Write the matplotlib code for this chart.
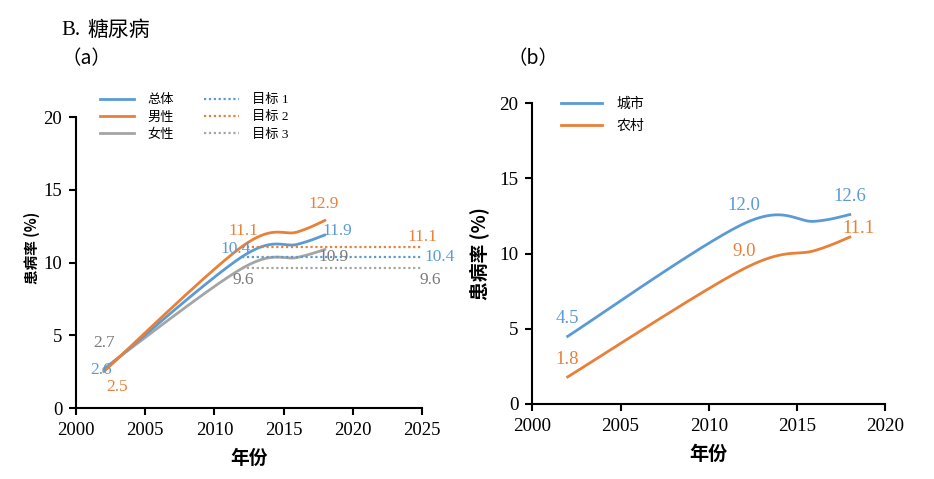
import numpy as np
import matplotlib
matplotlib.use("Agg")
import matplotlib.pyplot as plt
from matplotlib.lines import Line2D

plt.rcParams['font.family'] = ['Liberation Serif', 'Noto Sans CJK SC', 'DejaVu Sans']

# ---------------- data ----------------
years_a = [2002, 2012, 2016, 2018]
total = [2.6, 10.4, 11.25, 11.9]
male = [2.5, 11.1, 12.1, 12.9]
female = [2.7, 9.6, 10.35, 10.9]
target_years = [2012, 2025]
target1 = 10.4
target2 = 11.1
target3 = 9.6

years_b = [2002, 2012, 2016, 2018]
urban = [4.5, 12.0, 12.15, 12.6]
rural = [1.8, 9.0, 10.2, 11.1]

series_a_labels = ['总体', '男性', '女性']
target_labels = ['目标 1', '目标 2', '目标 3']
series_b_labels = ['城市', '农村']

BLUE = '#5B9BD5'
ORANGE = '#E8803A'
GREY = '#A5A5A5'
GREY_T = '#7A7A7A'

CJK = ['Noto Sans CJK SC', 'DejaVu Sans']
SERIF_CJK = ['Liberation Serif', 'Noto Sans CJK SC']


def smooth(xs, ys, n=60):
    P = np.column_stack([np.asarray(xs, float), np.asarray(ys, float)])
    out = []
    for i in range(len(P) - 1):
        p0 = P[i - 1] if i > 0 else P[i]
        p1, p2 = P[i], P[i + 1]
        p3 = P[i + 2] if i + 2 < len(P) else P[i + 1]
        c1 = p1 + (p2 - p0) / 6
        c2 = p2 - (p3 - p1) / 6
        t = np.linspace(0, 1, n)[:, None]
        seg = (1 - t) ** 3 * p1 + 3 * (1 - t) ** 2 * t * c1 + 3 * (1 - t) * t ** 2 * c2 + t ** 3 * p2
        out.append(seg if i == 0 else seg[1:])
    S = np.vstack(out)
    return S[:, 0], S[:, 1]


fig = plt.figure(figsize=(9.34, 4.79), dpi=100)
axa = fig.add_axes([0.0814, 0.1482, 0.3704, 0.6075])
axb = fig.add_axes([0.570, 0.1566, 0.3776, 0.6277])


def style(ax, xmax, tickfs):
    for s in ['top', 'right']:
        ax.spines[s].set_visible(False)
    for s in ['left', 'bottom']:
        ax.spines[s].set_linewidth(1.5)
    ax.tick_params(direction='out', length=5, width=1.5, labelsize=tickfs, pad=5)
    ax.set_ylim(0, 20)
    ax.set_xlim(2000, xmax)
    ax.set_yticks([0, 5, 10, 15, 20])


# ---------------- panel a ----------------
style(axa, 2025, 13.5)
axa.set_xticks([2000, 2005, 2010, 2015, 2020, 2025])
for ys, c in [(female, GREY), (total, BLUE), (male, ORANGE)]:
    sx, sy = smooth(years_a, ys)
    axa.plot(sx, sy, color=c, lw=2, solid_capstyle='round')
for v, c in [(target2, ORANGE), (target1, BLUE), (target3, GREY)]:
    axa.plot(target_years, [v, v], color=c, lw=1.6, ls=(0, (1, 1.2)))

fs = 12.5
# start labels
axa.text(years_a[0] - 0.2, total[0], f'{total[0]}', color=BLUE, fontsize=fs, ha='center', va='center')
axa.text(years_a[0] + 1.0, male[0] - 1.05, f'{male[0]}', color=ORANGE, fontsize=fs, ha='center', va='center')
axa.text(years_a[0], female[0] + 1.75, f'{female[0]}', color=GREY_T, fontsize=fs, ha='center', va='center')
# target start labels
axa.text(target_years[0] + 0.1, target2 + 1.1, f'{target2}', color=ORANGE, fontsize=fs, ha='center', va='center')
axa.text(target_years[0] - 0.5, target1 + 0.55, f'{target1}', color=BLUE, fontsize=fs, ha='center', va='center')
axa.text(target_years[0] + 0.1, target3 - 0.8, f'{target3}', color=GREY_T, fontsize=fs, ha='center', va='center')
# end labels
axa.text(years_a[-1] - 0.1, male[-1] + 1.1, f'{male[-1]}', color=ORANGE, fontsize=fs, ha='center', va='center')
axa.text(years_a[-1] + 0.9, total[-1] + 0.3, f'{total[-1]}', color=BLUE, fontsize=fs, ha='center', va='center')
axa.text(years_a[-1] + 0.6, female[-1] - 0.55, f'{female[-1]}', color=GREY_T, fontsize=fs, ha='center', va='center')
# target end labels
axa.text(target_years[1], target2 + 0.65, f'{target2}', color=ORANGE, fontsize=fs, ha='center', va='center')
axa.text(target_years[1] + 1.3, target1 - 0.02, f'{target1}', color=BLUE, fontsize=fs, ha='center', va='center', clip_on=False)
axa.text(target_years[1] + 0.6, target3 - 0.8, f'{target3}', color=GREY_T, fontsize=fs, ha='center', va='center', clip_on=False)

axa.set_xlabel('年份', fontsize=13.5, fontweight='bold', family=CJK, labelpad=7)
axa.set_ylabel('患病率 (%)', fontsize=10.5, fontweight='bold', family=CJK)
axa.yaxis.set_label_coords(-0.105, 0.55)

handles = [Line2D([], [], color=c, lw=2) for c in (BLUE, ORANGE, GREY)] + \
          [Line2D([], [], color=c, lw=1.6, ls=(0, (1, 1.2))) for c in (BLUE, ORANGE, GREY)]
leg = axa.legend(handles, series_a_labels + target_labels, ncol=2, frameon=False,
                 loc='upper left', bbox_to_anchor=(0.035, 1.12), prop={'family': SERIF_CJK, 'size': 9.5},
                 handlelength=2.6, handletextpad=1.0, columnspacing=2.3, labelspacing=0.38)

# ---------------- panel b ----------------
style(axb, 2020, 13.8)
axb.set_xticks([2000, 2005, 2010, 2015, 2020])
for ys, c in [(urban, BLUE), (rural, ORANGE)]:
    sx, sy = smooth(years_b, ys)
    axb.plot(sx, sy, color=c, lw=2)
fsb = 13.5
axb.text(years_b[0], urban[0] + 1.2, f'{urban[0]:.1f}', color=BLUE, fontsize=fsb, ha='center', va='center')
axb.text(years_b[0], rural[0] + 1.15, f'{rural[0]:.1f}', color=ORANGE, fontsize=fsb, ha='center', va='center')
axb.text(years_b[1], urban[1] + 1.2, f'{urban[1]:.1f}', color=BLUE, fontsize=fsb, ha='center', va='center')
axb.text(years_b[1], rural[1] + 1.15, f'{rural[1]:.1f}', color=ORANGE, fontsize=fsb, ha='center', va='center')
axb.text(years_b[-1], urban[-1] + 1.2, f'{urban[-1]:.1f}', color=BLUE, fontsize=fsb, ha='center', va='center')
axb.text(years_b[-1] + 0.5, rural[-1] + 0.6, f'{rural[-1]:.1f}', color=ORANGE, fontsize=fsb, ha='center', va='center')

axb.set_xlabel('年份', fontsize=13.8, fontweight='bold', family=CJK, labelpad=7)
axb.set_ylabel('患病率 (%)', fontsize=13.5, fontweight='bold', family=CJK)
axb.yaxis.set_label_coords(-0.12, 0.5)
hb = [Line2D([], [], color=c, lw=2) for c in (BLUE, ORANGE)]
axb.legend(hb, series_b_labels, frameon=False, loc='upper left', bbox_to_anchor=(0.045, 1.06),
           prop={'family': SERIF_CJK, 'size': 10}, handlelength=3.0, handletextpad=1.0, labelspacing=0.6)

# titles
fig.text(0.066, 0.937, 'B.', fontsize=15, family=SERIF_CJK, va='center', ha='left')
fig.text(0.094, 0.937, '糖尿病', fontsize=15, family=CJK, va='center', ha='left')
fig.text(0.066, 0.877, '（a）', fontsize=14, family=CJK, va='center', ha='left')
fig.text(0.543, 0.877, '（b）', fontsize=14, family=CJK, va='center', ha='left')

fig.savefig('out.png', dpi=100)
